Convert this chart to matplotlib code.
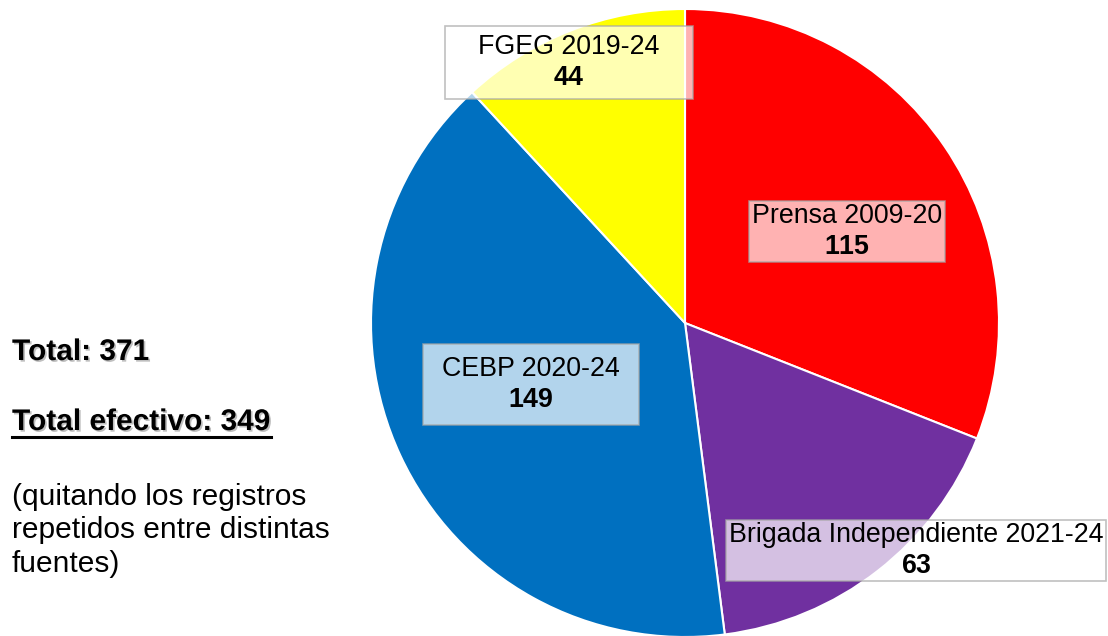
import matplotlib.pyplot as plt
import matplotlib.patheffects as pe
from matplotlib.patches import Rectangle
from matplotlib.lines import Line2D

plt.rcParams['font.family'] = ['Liberation Sans', 'DejaVu Sans']
plt.rcParams['mathtext.fontset'] = 'custom'
plt.rcParams['mathtext.bf'] = 'Liberation Sans:bold'
plt.rcParams['mathtext.rm'] = 'Liberation Sans'

# datos
fuentes = ['Prensa 2009-20', 'Brigada Independiente 2021-24', 'CEBP 2020-24', 'FGEG 2019-24']
valores = [115, 63, 149, 44]
colores = ['#FF0000', '#7030A0', '#0070C0', '#FFFF00']
total = 371
total_efectivo = 349
nota = ['(quitando los registros', 'repetidos entre distintas', 'fuentes)']

# posicion de las etiquetas (en unidades del radio) y relleno extra de las cajas (px)
pos_etiquetas = [(0.516, 0.291), (0.736, -0.723), (-0.490, -0.197), (-0.369, 0.831)]
relleno = [(3, 2), (3, 2), (19, 12), (33, 8)]

W, H = 1108, 636
fig = plt.figure(figsize=(W / 100, H / 100), dpi=100)
R = 314
cx, cy = 685, 323
ax = fig.add_axes([(cx - R) / W, (H - cy - R) / H, 2 * R / W, 2 * R / H])
ax.pie(valores, colors=colores, startangle=90, counterclock=False,
       wedgeprops=dict(edgecolor='white', linewidth=1.5))
ax.set_xlim(-1, 1)
ax.set_ylim(-1, 1)
ax.set_aspect('equal')
ax.axis('off')

textos = []
for nombre, v, (x, y) in zip(fuentes, valores, pos_etiquetas):
    t = ax.text(x, y, nombre + '\n' + r'$\mathbf{%d}$' % v, ha='center', va='center',
                multialignment='center', fontsize=19.3, linespacing=1.25, zorder=5)
    textos.append(t)

sombra = [pe.SimplePatchShadow(offset=(1.2, -1.2), shadow_rgbFace='#808080', alpha=0.5), pe.Normal()]
fig.text(12 / W, 1 - 360 / H, 'Total: %d' % total, fontsize=21.5, fontweight='bold',
         va='baseline', path_effects=sombra)
t_ef = fig.text(12 / W, 1 - 430 / H, 'Total efectivo: %d' % total_efectivo, fontsize=21.5,
                fontweight='bold', va='baseline', path_effects=sombra)
for i, linea in enumerate(nota):
    fig.text(12 / W, 1 - (505 + 33.5 * i) / H, linea, fontsize=21.5, va='baseline')

fig.canvas.draw()
r = fig.canvas.get_renderer()
for t, (px, py) in zip(textos, relleno):
    bb = t.get_window_extent(r)
    rect = Rectangle((bb.x0 - px, bb.y0 - py), bb.width + 2 * px, bb.height + 2 * py,
                     transform=None, facecolor='white', alpha=0.7, edgecolor='#A6A6A6',
                     linewidth=1.2, zorder=4, clip_on=False)
    ax.add_artist(rect)

bb = t_ef.get_window_extent(r)
y_sub = H - 437
fig.add_artist(Line2D([bb.x0, bb.x1], [y_sub, y_sub], transform=None, color='black',
                      linewidth=2.2, path_effects=sombra))

fig.savefig('out.png', dpi=100)
